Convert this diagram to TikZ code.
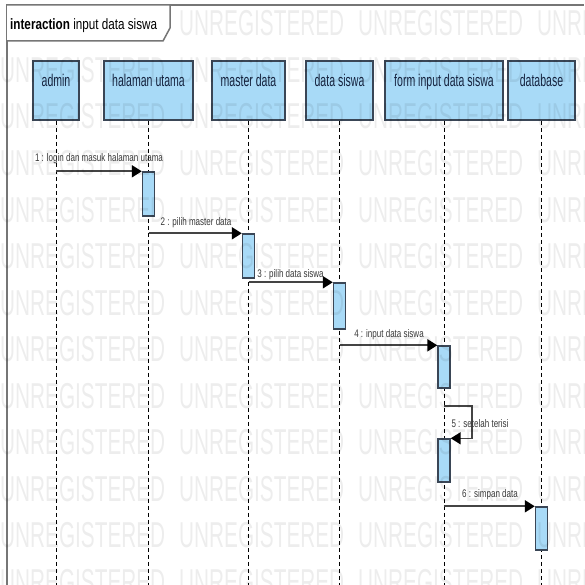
\documentclass[tikz,border=0pt]{standalone}
\usepackage{fontspec}
\setmainfont{Liberation Sans}
\newfontfamily\headfont[FakeStretch=0.62]{Liberation Sans}
\newfontfamily\msgfont[FakeStretch=0.73]{Liberation Sans}
\newfontfamily\titlefont[FakeStretch=0.78]{Liberation Sans}
\newfontfamily\wmfont[FakeStretch=0.577]{Liberation Sans}
\usetikzlibrary{arrows.meta}

\definecolor{headfill}{RGB}{168,218,247}
\definecolor{headdraw}{RGB}{58,70,86}
\definecolor{headtext}{RGB}{22,36,64}
\definecolor{msgline}{RGB}{68,68,68}
\definecolor{msgtext}{RGB}{58,58,58}
\definecolor{framecol}{RGB}{118,118,118}

\tikzset{
  frame/.style={draw=framecol, line width=2pt},
  framelabel/.style={draw=framecol, fill=white, line width=1.5pt, line join=miter},
  head/.style={draw=headdraw, fill=headfill, line width=1.6pt, minimum height=59pt, inner sep=0pt},
  headtxt/.style={font=\headfont\fontsize{17}{20}\selectfont, text=headtext, inner sep=0pt, anchor=base},
  actbox/.style={draw=headdraw, fill=headfill, line width=1.4pt, minimum width=12pt, inner sep=0pt},
  lifeline/.style={draw=black, line width=1pt, dash pattern=on 4pt off 3pt},
  msg/.style={draw=msgline, line width=2pt, -{Triangle[length=10pt,width=12pt,black]}},
  selfmsg/.style={draw=msgline, line width=1.6pt, -{Triangle[length=10pt,width=12pt,black]}},
  msglabel/.style={font=\msgfont\fontsize{11}{13}\selectfont, text=msgtext, inner sep=0pt, anchor=base},
  watermark/.style={font=\wmfont\fontsize{36}{40}\selectfont, text=black, text opacity=0.07, inner sep=0pt, anchor=base west},
}

\begin{document}
\begin{tikzpicture}[x=1pt, y=-1pt]
  \useasboundingbox[fill=white] (0,0) rectangle (584,585);

  % interaction frame and its name tag
  \draw[frame] (7,585) -- (7,5) -- (584,5);
  \draw[framelabel] (7,5) -- (170,5) -- (170,28) -- (163,41) -- (7,41);
  \node[font=\titlefont\fontsize{15}{18}\selectfont, inner sep=0pt, anchor=base west] (title)
    at (10,30) {\textbf{interaction} input data siswa};

  % lifeline heads
  \node[head, minimum width=46pt]  (admin)  at (56,90.5)    {};
  \node[head, minimum width=89pt]  (utama)  at (148.5,90.5) {};
  \node[head, minimum width=73pt]  (master) at (248.5,90.5) {};
  \node[head, minimum width=67pt]  (siswa)  at (339.5,90.5) {};
  \node[head, minimum width=118pt] (form)   at (444,90.5)   {};
  \node[head, minimum width=67pt]  (db)     at (541.5,90.5) {};

  \node[headtxt] (admin-t)  at ([yshift=-26pt]admin.north)  {admin};
  \node[headtxt] (utama-t)  at ([yshift=-26pt]utama.north)  {halaman utama};
  \node[headtxt] (master-t) at ([yshift=-26pt]master.north) {master data};
  \node[headtxt] (siswa-t)  at ([yshift=-26pt]siswa.north)  {data siswa};
  \node[headtxt] (form-t)   at ([yshift=-26pt]form.north)   {form input data siswa};
  \node[headtxt] (db-t)     at ([yshift=-26pt]db.north)     {database};

  % lifelines run to the lower edge
  \coordinate (bottom) at (0,585);
  \foreach \p in {admin,utama,master,siswa,form,db}
    \draw[lifeline] (\p.south) -- (\p.south |- bottom);

  % activation bars
  \node[actbox, minimum height=44pt] (a1) at (148.5,194)  {};
  \node[actbox, minimum height=44pt] (a2) at (248.5,256)  {};
  \node[actbox, minimum height=46pt] (a3) at (339.5,306)  {};
  \node[actbox, minimum height=42pt] (a4) at (444,367)    {};
  \node[actbox, minimum height=43pt] (a5) at (444,460.5)  {};
  \node[actbox, minimum height=43pt] (a6) at (541.5,528.5){};

  % messages
  \draw[msg] (admin.south |- a1.north west) -- (a1.north west);
  \draw[msg] (utama.south |- a2.north west) -- (a2.north west);
  \draw[msg] (master.south |- a3.north west) -- (a3.north west);
  \draw[msg] (siswa.south |- a4.north west) -- (a4.north west);
  \coordinate (loop-start) at (444,406);
  \coordinate (loop-turn) at (472,406);
  \draw[selfmsg] (loop-start) -- (loop-turn) |- (a5.north east);
  \draw[msg] (form.south |- a6.north west) -- (a6.north west);

  % message labels
  \node[msglabel] (l1) at (99,161.5)  {1 : login dan masuk halaman utama};
  \node[msglabel] (l2) at (196,225)   {2 : pilih master data};
  \node[msglabel] (l3) at (290.5,277) {3 : pilih data siswa};
  \node[msglabel] (l4) at (389,337)   {4 : input data siswa};
  \node[msglabel] (l5) at (480,427)   {5 : setelah terisi};
  \node[msglabel] (l6) at (490,497)   {6 : simpan data};

  % evaluation-copy watermark over the sheet
  \foreach \r in {0,...,12}
    \foreach \c in {0,...,3}{
      \ifnum\r=0 \ifnum\c=0 \else
        \node[watermark] at ({179*\c},{36+46.5*\r}) {UNREGISTERED};
      \fi\else
        \node[watermark] at ({179*\c},{36+46.5*\r}) {UNREGISTERED};
      \fi
    }
\end{tikzpicture}
\end{document}
